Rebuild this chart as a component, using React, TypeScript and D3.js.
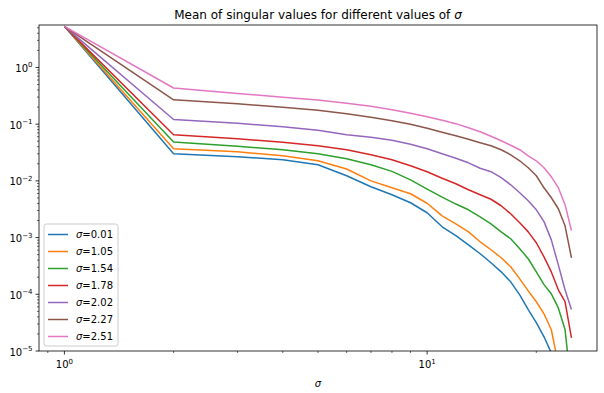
import React from 'react';
import * as d3 from 'd3';

// x values (index of singular value)
const xValues = [1, 2, 3, 4, 5, 6, 7, 8, 9, 10, 11, 12, 13, 14, 15, 16, 17, 18, 19, 20, 21, 22, 23, 24, 25];

const sigmaLabels = ['0.01', '1.05', '1.54', '1.78', '2.02', '2.27', '2.51'];

// mean singular values per sigma
const s001 = [5.3, 0.0301, 0.0266, 0.0236, 0.0192, 0.0123, 0.00787, 0.00569, 0.00411, 0.00274, 0.00155, 0.00108, 0.000746, 0.000518, 0.00036, 0.000249, 0.000166, 0.0000977, 0.0000537, 0.0000316, 0.0000178, 0.0000093, 1e-6, 1e-7, 1e-8];
const s105 = [5.3, 0.0368, 0.0326, 0.0277, 0.0226, 0.0162, 0.01, 0.00755, 0.00592, 0.00403, 0.00242, 0.00175, 0.00126, 0.000843, 0.00061, 0.000441, 0.000305, 0.000187, 0.000115, 0.0000738, 0.0000453, 0.0000237, 0.0000058, 3e-7, 1e-8];
const s154 = [5.3, 0.0483, 0.0407, 0.0354, 0.0301, 0.0245, 0.0192, 0.0147, 0.0104, 0.00716, 0.00518, 0.0039, 0.00309, 0.00232, 0.00175, 0.00126, 0.000953, 0.000634, 0.000423, 0.000249, 0.000148, 0.000102, 0.0000575, 0.000024, 0.0000021];
const s178 = [5.3, 0.065, 0.0553, 0.048, 0.0416, 0.0354, 0.0288, 0.0236, 0.0185, 0.0145, 0.0111, 0.00889, 0.00697, 0.00569, 0.00474, 0.00364, 0.00263, 0.00182, 0.00126, 0.00081, 0.000458, 0.000248, 0.00012, 0.0000741, 0.000017];
const s202 = [5.3, 0.121, 0.104, 0.0899, 0.078, 0.065, 0.0587, 0.052, 0.0443, 0.0368, 0.0301, 0.0251, 0.0208, 0.0167, 0.0145, 0.0114, 0.00853, 0.00617, 0.00446, 0.00309, 0.00191, 0.00091, 0.00033, 0.00012, 0.0000537];
const s227 = [5.3, 0.269, 0.229, 0.199, 0.176, 0.152, 0.132, 0.115, 0.0995, 0.0847, 0.0719, 0.0624, 0.0542, 0.047, 0.0416, 0.0354, 0.0288, 0.0226, 0.017, 0.0123, 0.00755, 0.00504, 0.00322, 0.00161, 0.00044];
const s251 = [5.3, 0.434, 0.348, 0.298, 0.266, 0.234, 0.207, 0.179, 0.156, 0.135, 0.117, 0.102, 0.0865, 0.0735, 0.0612, 0.0509, 0.0425, 0.0354, 0.0275, 0.0226, 0.017, 0.0118, 0.00759, 0.0038, 0.00133];

const seriesValues = [s001, s105, s154, s178, s202, s227, s251];
const colors = ['#1f77b4', '#ff7f0e', '#2ca02c', '#d62728', '#9467bd', '#8c564b', '#e377c2'];

const yMajorExps = [-5, -4, -3, -2, -1, 0];
const xMajorExps = [0, 1];

const W = 604;
const H = 393;
const margin = { top: 25, right: 7, bottom: 42, left: 39 };
const font = '"DejaVu Sans", sans-serif';

const App = () => {
  const plotW = W - margin.left - margin.right;
  const plotH = H - margin.top - margin.bottom;

  const x = d3.scaleLog().domain([0.851, 29.4]).range([0, plotW]);
  const y = d3.scaleLog().domain([1e-5, 5.6]).range([plotH, 0]);

  const line = d3.line<number>()
    .x((d, i) => x(xValues[i]))
    .y((d) => y(d));

  // minor ticks in the visible range
  const yMinor: number[] = [];
  for (let e = -6; e <= 0; e++) {
    for (let m = 2; m <= 9; m++) {
      const v = m * Math.pow(10, e);
      if (v >= 1e-5 && v <= 5.6) yMinor.push(v);
    }
  }
  const xMinor: number[] = [];
  for (let e = -1; e <= 1; e++) {
    for (let m = 2; m <= 9; m++) {
      const v = m * Math.pow(10, e);
      if (v >= 0.851 && v <= 29.4) xMinor.push(v);
    }
  }

  const legendX = 5;
  const legendY = plotH - 5 - 122;

  return (
    <svg width={W} height={H} style={{ position: 'absolute', left: 0, top: 0, background: '#fff' }} fontFamily={font}>
      <text x={margin.left + plotW / 2} y={19} textAnchor="middle" fontSize={12} fill="#000">
        Mean of singular values for different values of <tspan fontStyle="italic">σ</tspan>
      </text>
      <defs>
        <clipPath id="plot-clip">
          <rect x={0} y={0} width={plotW} height={plotH} />
        </clipPath>
      </defs>
      <g transform={`translate(${margin.left},${margin.top})`}>
        <g clipPath="url(#plot-clip)">
          {seriesValues.map((vals, i) => (
            <path key={i} d={line(vals) || ''} fill="none" stroke={colors[i]} strokeWidth={1.5} strokeLinejoin="round" />
          ))}
        </g>

        {/* y axis */}
        {yMinor.map((v) => (
          <line key={`ym${v}`} x1={0} x2={-2} y1={y(v)} y2={y(v)} stroke="#000" strokeWidth={0.6} />
        ))}
        {yMajorExps.map((e) => (
          <g key={`y${e}`}>
            <line x1={0} x2={-3.5} y1={y(Math.pow(10, e))} y2={y(Math.pow(10, e))} stroke="#000" strokeWidth={0.8} />
            <text x={-6.5} y={y(Math.pow(10, e)) + 4.5} textAnchor="end" fontSize={10} fill="#000">
              10<tspan dy={-4.5} fontSize={7}>{e < 0 ? `−${-e}` : e}</tspan>
            </text>
          </g>
        ))}

        {/* x axis */}
        {xMinor.map((v) => (
          <line key={`xm${v}`} x1={x(v)} x2={x(v)} y1={plotH} y2={plotH + 2} stroke="#000" strokeWidth={0.6} />
        ))}
        {xMajorExps.map((e) => (
          <g key={`x${e}`}>
            <line x1={x(Math.pow(10, e))} x2={x(Math.pow(10, e))} y1={plotH} y2={plotH + 3.5} stroke="#000" strokeWidth={0.8} />
            <text x={x(Math.pow(10, e))} y={plotH + 17} textAnchor="middle" fontSize={10} fill="#000">
              10<tspan dy={-4.5} fontSize={7}>{e}</tspan>
            </text>
          </g>
        ))}
        <text x={plotW / 2} y={plotH + 35.5} textAnchor="middle" fontSize={10} fontStyle="italic" fill="#000">σ</text>

        <rect x={0} y={0} width={plotW} height={plotH} fill="none" stroke="#000" strokeWidth={0.8} />

        {/* legend */}
        <g transform={`translate(${legendX},${legendY})`}>
          <rect x={0} y={0} width={74} height={122} rx={2.5} fill="#fff" fillOpacity={0.8} stroke="#cccccc" strokeWidth={1} />
          {sigmaLabels.map((s, i) => (
            <g key={s} transform={`translate(0,${10.5 + i * 17})`}>
              <line x1={4} x2={24} y1={0} y2={0} stroke={colors[i]} strokeWidth={1.5} />
              <text x={32} y={3.6} fontSize={10} fill="#000">
                <tspan fontStyle="italic">σ</tspan>={s}
              </text>
            </g>
          ))}
        </g>
      </g>
    </svg>
  );
};

export default App;
